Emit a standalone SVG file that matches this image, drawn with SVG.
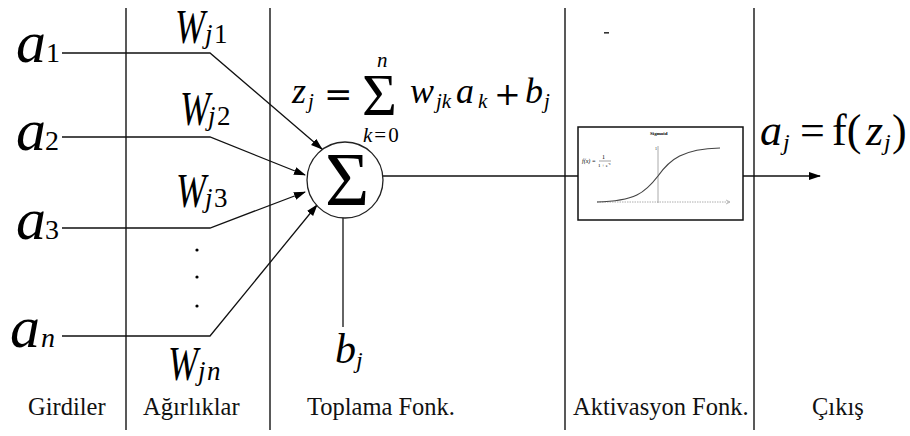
<svg xmlns="http://www.w3.org/2000/svg" width="910" height="436" viewBox="0 0 910 436">
<defs>
<marker id="ah" markerWidth="12" markerHeight="10" refX="11" refY="4" orient="auto" markerUnits="userSpaceOnUse">
<path d="M0,0 L12,4 L0,8 Z" fill="#000"/>
</marker>
</defs>
<g id="columns" stroke="#222" stroke-width="1.5">
<line x1="126" y1="8" x2="126" y2="430"/>
<line x1="270" y1="8" x2="270" y2="430"/>
<line x1="565" y1="8" x2="565" y2="430"/>
<line x1="754" y1="8" x2="754" y2="430"/>
<rect x="604" y="32" width="5" height="1.6" fill="#333" stroke="none"/>
</g>
<g id="connectors" stroke="#111" stroke-width="1.3" fill="none">
<polyline points="62,53 210,53 322,149" marker-end="url(#ah)"/>
<polyline points="62,137 210,137 305,175" marker-end="url(#ah)"/>
<polyline points="62,228 210,228 305,192" marker-end="url(#ah)"/>
<polyline points="62,336 210,336 317,205" marker-end="url(#ah)"/>
<line x1="343" y1="218" x2="343" y2="327"/>
<line x1="383" y1="176" x2="578" y2="176"/>
<line x1="743" y1="176" x2="820" y2="176" marker-end="url(#ah)"/>
</g>
<g id="inputs" fill="#000">
<text font-family="Liberation Serif" font-style="italic" font-size="60" x="16" y="62">a</text><text font-family="Liberation Serif" font-size="28" x="46" y="62">1</text>
<text font-family="Liberation Serif" font-style="italic" font-size="60" x="16" y="150">a</text><text font-family="Liberation Serif" font-size="28" x="45" y="150">2</text>
<text font-family="Liberation Serif" font-style="italic" font-size="60" x="16" y="239">a</text><text font-family="Liberation Serif" font-size="28" x="45" y="239">3</text>
<text font-family="Liberation Serif" font-style="italic" font-size="60" x="10" y="347">a</text><text font-family="Liberation Serif" font-style="italic" font-size="28" x="41" y="347">n</text>
</g>
<g id="weights" fill="#000">
<text font-family="Liberation Serif" font-style="italic" font-size="48" x="175" y="43" textLength="30" lengthAdjust="spacingAndGlyphs">W</text><text font-family="Liberation Serif" font-style="italic" font-size="27" x="205" y="43">j</text><text font-family="Liberation Serif" font-size="27" x="214" y="43">1</text>
<text font-family="Liberation Serif" font-style="italic" font-size="48" x="180" y="125" textLength="30" lengthAdjust="spacingAndGlyphs">W</text><text font-family="Liberation Serif" font-style="italic" font-size="27" x="208" y="125">j</text><text font-family="Liberation Serif" font-size="27" x="217" y="125">2</text>
<text font-family="Liberation Serif" font-style="italic" font-size="48" x="176" y="207" textLength="30" lengthAdjust="spacingAndGlyphs">W</text><text font-family="Liberation Serif" font-style="italic" font-size="27" x="205" y="207">j</text><text font-family="Liberation Serif" font-size="27" x="214" y="207">3</text>
<circle cx="197" cy="250" r="1.6"/>
<circle cx="197" cy="277" r="1.6"/>
<circle cx="197" cy="306" r="1.6"/>
<text font-family="Liberation Serif" font-style="italic" font-size="48" x="168" y="380" textLength="30" lengthAdjust="spacingAndGlyphs">W</text><text font-family="Liberation Serif" font-style="italic" font-size="27" x="198" y="380">j</text><text font-family="Liberation Serif" font-style="italic" font-size="27" x="207" y="380">n</text>
</g>
<g id="formula" fill="#000">
<text font-family="Liberation Serif" font-style="italic" font-size="36" x="292" y="103">z</text><text font-family="Liberation Serif" font-style="italic" font-size="21" x="308" y="108">j</text>
<text font-family="DejaVu Serif" font-size="34" x="324" y="106">=</text>
<text font-family="Liberation Serif" font-size="60" x="362" y="115">&#931;</text>
<text font-family="Liberation Serif" font-style="italic" font-size="21" x="377" y="67">n</text>
<text font-family="Liberation Serif" font-size="21" x="363" y="142"><tspan font-style="italic">k</tspan><tspan dx="2">=</tspan><tspan dx="2">0</tspan></text>
<text font-family="Liberation Serif" font-style="italic" font-size="36" x="410" y="103">w</text><text font-family="Liberation Serif" font-style="italic" font-size="21" x="436" y="108">jk</text>
<text font-family="Liberation Serif" font-style="italic" font-size="36" x="456" y="103">a</text><text font-family="Liberation Serif" font-style="italic" font-size="21" x="478" y="108">k</text>
<text font-family="DejaVu Serif" font-size="32" x="494" y="105">+</text>
<text font-family="Liberation Serif" font-style="italic" font-size="36" x="525" y="103">b</text><text font-family="Liberation Serif" font-style="italic" font-size="21" x="544" y="108">j</text>
</g>
<g id="sum">
<circle cx="345" cy="180" r="38" fill="#fff" stroke="#222" stroke-width="1.3"/>
<text font-family="Liberation Serif" font-size="76" fill="#000" x="325" y="205">&#931;</text>
<text font-family="Liberation Serif" font-style="italic" font-size="42" fill="#000" x="335" y="363">b</text><text font-family="Liberation Serif" font-style="italic" font-size="24" fill="#000" x="356" y="368">j</text>
</g>
<g id="activation">
<rect x="578" y="127" width="165" height="93" fill="#fff" stroke="#111" stroke-width="1.5"/>
<text font-family="Liberation Serif" font-size="5" font-weight="bold" x="650" y="135">Sigmoid</text>
<text font-family="Liberation Serif" font-style="italic" font-size="6" x="582" y="163">f(x) =</text>
<text font-family="Liberation Serif" font-size="6" x="602" y="159">1</text>
<line x1="599" y1="161" x2="611" y2="161" stroke="#444" stroke-width="0.5"/>
<text font-family="Liberation Serif" font-size="5" x="598" y="167">1 + e<tspan font-size="3" dy="-2">-x</tspan></text>
<text font-family="Liberation Serif" font-size="4" x="655" y="150">1</text>
<line x1="658" y1="146" x2="658" y2="203" stroke="#aaa" stroke-width="1"/>
<line x1="597" y1="202" x2="729" y2="202" stroke="#999" stroke-width="0.8" stroke-dasharray="1.5,1"/>
<path d="M726,200 L730,202 L726,204" fill="none" stroke="#888" stroke-width="0.6"/>
<path d="M597,202 C635,201 645,193 658,176 C670,159 683,149 720,148" fill="none" stroke="#444" stroke-width="1.2"/>
</g>
<g id="output" fill="#000">
<text font-family="Liberation Serif" font-style="italic" font-size="44" x="760" y="145">a</text><text font-family="Liberation Serif" font-style="italic" font-size="24" x="783" y="150">j</text>
<text font-family="Liberation Serif" font-size="44" x="800" y="145">=</text>
<text font-family="Liberation Serif" font-size="44" x="832" y="145">f(</text>
<text font-family="Liberation Serif" font-style="italic" font-size="44" x="866" y="145">z</text><text font-family="Liberation Serif" font-style="italic" font-size="24" x="884" y="150">j</text>
<text font-family="Liberation Serif" font-size="44" x="892" y="145">)</text>
</g>
<g id="labels" fill="#111">
<text font-family="Liberation Serif" font-size="24.5" x="28" y="415">Girdiler</text>
<text font-family="Liberation Serif" font-size="24.5" x="143" y="415">A&#287;&#305;rl&#305;klar</text>
<text font-family="Liberation Serif" font-size="24.5" x="307" y="415">Toplama Fonk.</text>
<text font-family="Liberation Serif" font-size="24.5" x="573" y="415">Aktivasyon Fonk.</text>
<text font-family="Liberation Serif" font-size="24.5" x="812" y="415">&#199;&#305;k&#305;&#351;</text>
</g>
</svg>
